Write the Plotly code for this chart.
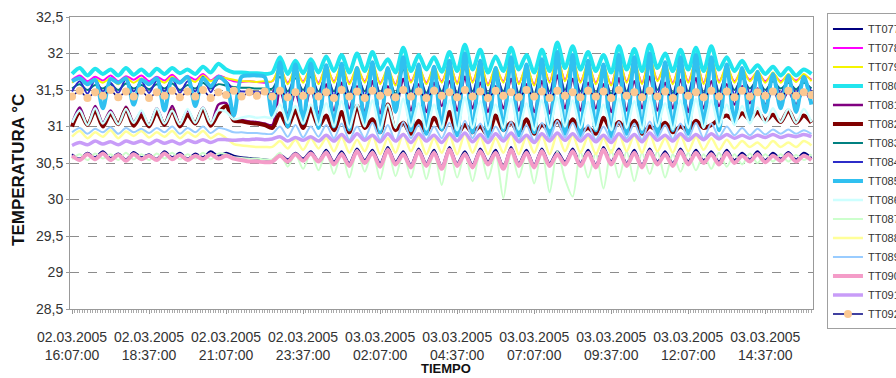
import plotly.graph_objects as go
import pandas as pd

# ---------------- data ----------------
start_time = "2005-03-02 16:07:00"
n_points = 97  # one reading every 15 minutes
times = pd.date_range(start_time, periods=n_points, freq="15min")

tick_labels = [
    "02.03.2005<br>16:07:00", "02.03.2005<br>18:37:00", "02.03.2005<br>21:07:00",
    "02.03.2005<br>23:37:00", "03.03.2005<br>02:07:00", "03.03.2005<br>04:37:00",
    "03.03.2005<br>07:07:00", "03.03.2005<br>09:37:00", "03.03.2005<br>12:07:00",
    "03.03.2005<br>14:37:00",
]
tick_times = pd.date_range(start_time, periods=len(tick_labels), freq="150min")

y_ticks = [28.5, 29, 29.5, 30, 30.5, 31, 31.5, 32, 32.5]
y_tick_labels = ["28,5", "29", "29,5", "30", "30,5", "31", "31,5", "32", "32,5"]

TT077 = [30.62, 30.56, 30.64, 30.58, 30.66, 30.57, 30.63, 30.55, 30.65, 30.58,
         30.62, 30.56, 30.66, 30.58, 30.64, 30.56, 30.63, 30.58, 30.66, 30.60,
         30.64, 30.60, 30.58, 30.57, 30.56, 30.55, 30.54, 30.62, 30.55, 30.64, 30.56, 30.66, 30.54,
         30.68, 30.52, 30.66, 30.50, 30.70, 30.54, 30.68, 30.50, 30.72, 30.52,
         30.66, 30.48, 30.70, 30.50, 30.68, 30.46, 30.72, 30.50, 30.66, 30.48,
         30.70, 30.52, 30.68, 30.46, 30.72, 30.50, 30.68, 30.48, 30.70, 30.50,
         30.66, 30.52,
         30.70, 30.50, 30.68, 30.48, 30.72, 30.52, 30.70, 30.50, 30.68, 30.48,
         30.70, 30.52, 30.66, 30.50, 30.70, 30.52, 30.68, 30.54, 30.66, 30.52,
         30.68, 30.54, 30.64, 30.55, 30.66, 30.54, 30.64, 30.56, 30.65, 30.55,
         30.64, 30.57]

TT078 = [31.64, 31.70, 31.62, 31.68, 31.63, 31.70, 31.62, 31.69, 31.64, 31.70,
         31.62, 31.68, 31.63, 31.71, 31.62, 31.69, 31.64, 31.72, 31.63, 31.70,
         31.66, 31.62, 31.61, 31.62, 31.61, 31.60, 31.62, 31.78, 31.60, 31.75, 31.62, 31.78, 31.60,
         31.80, 31.62, 31.82, 31.60, 31.78, 31.62, 31.84, 31.60, 31.76, 31.58,
         31.88, 31.62, 31.80, 31.60, 31.78, 31.62, 31.84, 31.60, 31.90, 31.62,
         31.85, 31.58, 31.78, 31.62, 31.88, 31.60, 31.80, 31.58, 31.86, 31.62,
         31.92, 31.64,
         31.88, 31.62, 31.84, 31.60, 31.80, 31.58, 31.90, 31.62, 31.86, 31.60,
         31.92, 31.64, 31.82, 31.60, 31.86, 31.62, 31.88, 31.60, 31.90, 31.62,
         31.80, 31.62, 31.76, 31.64, 31.74, 31.62, 31.72, 31.62, 31.70, 31.63,
         31.70, 31.64]

TT079 = [31.60, 31.66, 31.58, 31.65, 31.60, 31.66, 31.58, 31.67, 31.60, 31.66,
         31.59, 31.65, 31.60, 31.68, 31.60, 31.66, 31.61, 31.70, 31.62, 31.68,
         31.66, 31.64, 31.62, 31.62, 31.61, 31.62, 31.62, 31.82, 31.58, 31.80, 31.60, 31.82, 31.58,
         31.84, 31.60, 31.86, 31.58, 31.82, 31.60, 31.88, 31.58, 31.80, 31.56,
         31.92, 31.60, 31.84, 31.58, 31.82, 31.60, 31.88, 31.58, 31.95, 31.60,
         31.90, 31.56, 31.82, 31.60, 31.92, 31.58, 31.84, 31.56, 31.90, 31.60,
         31.96, 31.62,
         31.92, 31.60, 31.88, 31.58, 31.84, 31.56, 31.94, 31.60, 31.90, 31.58,
         31.96, 31.62, 31.86, 31.58, 31.90, 31.60, 31.92, 31.58, 31.94, 31.60,
         31.84, 31.60, 31.80, 31.62, 31.76, 31.60, 31.74, 31.60, 31.72, 31.61,
         31.72, 31.62]

TT080 = [31.72, 31.80, 31.70, 31.79, 31.72, 31.78, 31.70, 31.80, 31.71, 31.78,
         31.70, 31.79, 31.72, 31.80, 31.73, 31.78, 31.72, 31.82, 31.74, 31.86,
         31.78, 31.74, 31.74, 31.73, 31.73, 31.72, 31.74, 31.95, 31.72, 31.90, 31.73, 31.92, 31.74,
         31.96, 31.76, 31.98, 31.74, 32.00, 31.76, 32.02, 31.78, 31.92, 31.74,
         32.08, 31.76, 31.98, 31.78, 31.95, 31.75, 32.02, 31.76, 32.12, 31.78,
         32.05, 31.74, 31.96, 31.76, 32.08, 31.78, 31.98, 31.74, 32.05, 31.76,
         32.15, 31.80,
         32.10, 31.78, 32.02, 31.76, 31.98, 31.74, 32.10, 31.78, 32.06, 31.76,
         32.12, 31.80, 32.00, 31.76, 32.05, 31.78, 32.08, 31.76, 32.10, 31.78,
         31.95, 31.76, 31.90, 31.74, 31.84, 31.72, 31.82, 31.70, 31.80, 31.70,
         31.78, 31.72]

TT081 = [31.04, 31.26, 31.02, 31.28, 31.05, 31.22, 31.03, 31.27, 31.06, 31.20,
         31.02, 31.25, 31.04, 31.28, 31.03, 31.22, 31.05, 31.26, 31.02, 31.30,
         31.32, 31.10, 31.09, 31.07, 31.06, 31.04, 31.02, 31.50, 31.18, 31.46, 31.16, 31.52, 31.18,
         31.58, 31.22, 31.60, 31.25, 31.55, 31.20, 31.62, 31.18, 31.55, 31.25,
         31.65, 31.22, 31.58, 31.20, 31.60, 31.28, 31.62, 31.22, 31.68, 31.25,
         31.60, 31.20, 31.55, 31.25, 31.65, 31.22, 31.58, 31.20, 31.62, 31.18,
         31.70, 31.25,
         31.65, 31.22, 31.60, 31.25, 31.58, 31.20, 31.66, 31.22, 31.62, 31.25,
         31.68, 31.22, 31.60, 31.25, 31.64, 31.20, 31.66, 31.25, 31.62, 31.28,
         31.58, 31.30, 31.55, 31.32, 31.52, 31.30, 31.50, 31.32, 31.48, 31.30,
         31.50, 31.32]

TT082 = [31.00, 31.20, 31.02, 31.22, 31.00, 31.18, 31.03, 31.24, 31.01, 31.15,
         31.00, 31.20, 31.02, 31.22, 31.00, 31.16, 31.04, 31.24, 31.01, 31.18,
         31.28, 31.08, 31.07, 31.05, 31.04, 31.02, 30.98, 31.18, 31.00, 31.22, 30.98, 31.25, 31.00,
         31.15, 30.95, 31.20, 30.92, 31.28, 30.98, 31.10, 30.92, 31.30, 30.95,
         31.05, 30.90, 31.08, 30.92, 31.12, 30.96, 31.20, 30.90, 31.02, 30.92,
         31.00, 30.88, 31.15, 30.95, 31.05, 30.92, 31.10, 30.90, 31.02, 30.95,
         31.08, 30.92,
         31.10, 30.92, 30.98, 30.90, 31.12, 30.95, 31.06, 30.92, 31.08, 30.90,
         31.00, 30.95, 31.05, 30.92, 31.00, 30.94, 31.08, 30.98, 31.02, 31.10,
         31.15, 31.08, 31.18, 31.10, 31.20, 31.08, 31.16, 31.06, 31.22, 31.05,
         31.15, 31.05]

TT083 = [31.52, 31.58, 31.50, 31.57, 31.52, 31.58, 31.50, 31.59, 31.52, 31.57,
         31.51, 31.58, 31.52, 31.59, 31.50, 31.57, 31.52, 31.60, 31.52, 31.58,
         31.56, 31.54, 31.53, 31.53, 31.52, 31.52, 31.52, 31.68, 31.48, 31.66, 31.50, 31.68, 31.48,
         31.70, 31.48, 31.72, 31.46, 31.68, 31.48, 31.74, 31.46, 31.68, 31.45,
         31.78, 31.48, 31.70, 31.46, 31.68, 31.48, 31.74, 31.46, 31.80, 31.48,
         31.76, 31.45, 31.70, 31.48, 31.78, 31.46, 31.72, 31.45, 31.76, 31.48,
         31.82, 31.50,
         31.78, 31.48, 31.74, 31.46, 31.70, 31.45, 31.80, 31.48, 31.76, 31.46,
         31.82, 31.50, 31.72, 31.46, 31.76, 31.48, 31.78, 31.46, 31.80, 31.48,
         31.70, 31.50, 31.66, 31.52, 31.64, 31.50, 31.62, 31.52, 31.60, 31.51,
         31.60, 31.52]

TT084 = [31.48, 31.62, 31.45, 31.64, 31.48, 31.60, 31.46, 31.65, 31.48, 31.62,
         31.46, 31.63, 31.48, 31.66, 31.46, 31.62, 31.48, 31.68, 31.47, 31.66,
         31.62, 31.50, 31.48, 31.48, 31.47, 31.47, 31.46, 31.76, 31.42, 31.72, 31.44, 31.75, 31.42,
         31.76, 31.42, 31.80, 31.40, 31.74, 31.42, 31.82, 31.40, 31.72, 31.38,
         31.86, 31.42, 31.76, 31.40, 31.74, 31.42, 31.82, 31.40, 31.88, 31.42,
         31.84, 31.38, 31.76, 31.42, 31.86, 31.40, 31.78, 31.38, 31.84, 31.42,
         31.90, 31.44,
         31.86, 31.42, 31.82, 31.40, 31.76, 31.38, 31.88, 31.42, 31.84, 31.40,
         31.90, 31.44, 31.78, 31.40, 31.84, 31.42, 31.86, 31.40, 31.88, 31.42,
         31.76, 31.44, 31.72, 31.46, 31.68, 31.45, 31.66, 31.46, 31.64, 31.46,
         31.64, 31.47]

TT085 = [31.62, 31.66, 31.58, 31.64, 31.25, 31.65, 31.60, 31.66, 31.30, 31.64,
         31.58, 31.66, 31.22, 31.65, 31.60, 31.68, 31.28, 31.66, 31.55, 31.68,
         31.60, 31.15, 31.68, 31.70, 31.70, 31.68, 31.15, 31.88, 31.00, 31.85, 31.05, 31.86, 30.98,
         31.84, 31.00, 31.86, 30.96, 31.80, 31.05, 31.88, 30.92, 31.80, 31.20,
         31.95, 30.95, 31.85, 30.90, 31.82, 30.96, 31.90, 30.88, 32.00, 30.92,
         31.90, 30.86, 31.80, 30.95, 31.95, 30.88, 31.85, 30.92, 31.92, 30.85,
         32.02, 30.90,
         31.98, 30.88, 31.90, 30.95, 31.85, 30.86, 31.98, 30.90, 31.95, 30.92,
         32.00, 30.88, 31.88, 30.95, 31.95, 30.90, 31.98, 31.00, 31.95, 30.95,
         31.85, 31.05, 31.80, 31.10, 31.75, 31.20, 31.72, 31.25, 31.70, 31.20,
         31.68, 31.30]

TT086 = [31.05, 31.22, 31.02, 31.25, 31.04, 31.20, 31.03, 31.24, 31.05, 31.22,
         31.02, 31.25, 31.04, 31.22, 31.03, 31.24, 31.05, 31.26, 31.04, 31.22,
         31.20, 31.10, 31.12, 31.14, 31.12, 31.13, 31.12, 31.30, 31.05, 31.28, 31.04, 31.30, 31.02,
         31.32, 31.00, 31.35, 30.98, 31.30, 31.00, 31.36, 30.96, 31.30, 30.98,
         31.38, 31.00, 31.32, 30.96, 31.30, 30.98, 31.36, 30.95, 31.40, 30.98,
         31.35, 30.96, 31.30, 30.98, 31.38, 30.96, 31.32, 30.95, 31.36, 30.98,
         31.40, 31.00,
         31.36, 30.98, 31.34, 30.96, 31.30, 30.95, 31.38, 30.98, 31.35, 30.96,
         31.40, 31.00, 31.32, 30.96, 31.36, 30.98, 31.38, 30.98, 31.36, 31.00,
         31.30, 31.02, 31.28, 31.04, 31.26, 31.05, 31.25, 31.06, 31.24, 31.05,
         31.24, 31.06]

TT087 = [30.55, 30.62, 30.54, 30.63, 30.56, 30.62, 30.54, 30.64, 30.55, 30.62,
         30.54, 30.63, 30.56, 30.64, 30.55, 30.62, 30.56, 30.64, 30.55, 30.63,
         30.62, 30.58, 30.57, 30.56, 30.56, 30.55, 30.55, 30.64, 30.45, 30.62, 30.42, 30.64, 30.40,
         30.66, 30.35, 30.64, 30.30, 30.68, 30.38, 30.66, 30.28, 30.70, 30.32,
         30.64, 30.30, 30.68, 30.28, 30.66, 30.20, 30.68, 30.30, 30.64, 30.25,
         30.66, 30.28, 30.62, 30.02, 30.66, 30.30, 30.64, 30.22, 30.68, 30.10,
         30.66, 30.28,
         30.04, 30.66, 30.30, 30.64, 30.15, 30.68, 30.30, 30.66, 30.25, 30.64,
         30.35, 30.66, 30.30, 30.62, 30.38, 30.64, 30.40, 30.62, 30.42, 30.64,
         30.45, 30.62, 30.48, 30.63, 30.50, 30.62, 30.52, 30.62, 30.52, 30.61,
         30.54, 30.62]

TT088 = [30.86, 30.94, 30.84, 30.92, 30.86, 30.95, 30.84, 30.93, 30.87, 30.94,
         30.85, 30.92, 30.86, 30.94, 30.84, 30.92, 30.86, 30.94, 30.84, 30.90,
         30.84, 30.76, 30.74, 30.73, 30.72, 30.72, 30.72, 30.80, 30.70, 30.82, 30.68, 30.84, 30.70,
         30.84, 30.66, 30.86, 30.64, 30.82, 30.66, 30.88, 30.62, 30.84, 30.64,
         30.90, 30.66, 30.86, 30.62, 30.84, 30.64, 30.88, 30.62, 30.90, 30.64,
         30.86, 30.62, 30.84, 30.64, 30.90, 30.62, 30.86, 30.64, 30.88, 30.62,
         30.90, 30.66,
         30.88, 30.64, 30.86, 30.62, 30.84, 30.64, 30.90, 30.66, 30.88, 30.64,
         30.90, 30.66, 30.84, 30.64, 30.88, 30.66, 30.86, 30.68, 30.84, 30.68,
         30.82, 30.70, 30.80, 30.72, 30.78, 30.70, 30.80, 30.72, 30.78, 30.72,
         30.80, 30.74]

TT089 = [30.92, 30.98, 30.90, 30.97, 30.92, 30.99, 30.90, 30.98, 30.92, 30.97,
         30.91, 30.98, 30.92, 31.00, 30.90, 30.98, 30.92, 31.00, 30.91, 30.98,
         30.96, 30.92, 30.92, 30.91, 30.91, 30.90, 30.90, 31.00, 30.86, 31.02, 30.85, 31.00, 30.86,
         31.02, 30.84, 31.04, 30.82, 31.00, 30.84, 31.05, 30.82, 31.02, 30.80,
         31.06, 30.84, 31.02, 30.82, 31.00, 30.84, 31.05, 30.80, 31.08, 30.84,
         31.04, 30.82, 31.00, 30.84, 31.06, 30.82, 31.02, 30.80, 31.05, 30.84,
         31.08, 30.85,
         31.05, 30.84, 31.02, 30.82, 31.00, 30.82, 31.06, 30.84, 31.04, 30.82,
         31.07, 30.85, 31.02, 30.83, 31.04, 30.84, 31.05, 30.84, 31.04, 30.86,
         31.00, 30.88, 30.98, 30.88, 30.97, 30.89, 30.96, 30.90, 30.96, 30.90,
         30.95, 30.90]

TT090 = [30.60, 30.54, 30.62, 30.55, 30.63, 30.54, 30.61, 30.53, 30.62, 30.55,
         30.60, 30.54, 30.63, 30.55, 30.61, 30.54, 30.60, 30.55, 30.62, 30.56,
         30.60, 30.56, 30.54, 30.52, 30.52, 30.51, 30.52, 30.60, 30.52, 30.62, 30.53, 30.63, 30.52,
         30.64, 30.48, 30.62, 30.46, 30.66, 30.50, 30.64, 30.45, 30.68, 30.48,
         30.62, 30.44, 30.66, 30.46, 30.64, 30.42, 30.68, 30.46, 30.62, 30.44,
         30.66, 30.48, 30.64, 30.42, 30.68, 30.46, 30.64, 30.44, 30.66, 30.46,
         30.62, 30.48,
         30.66, 30.46, 30.64, 30.44, 30.68, 30.48, 30.66, 30.46, 30.64, 30.44,
         30.66, 30.48, 30.62, 30.46, 30.66, 30.48, 30.64, 30.50, 30.62, 30.48,
         30.64, 30.50, 30.60, 30.52, 30.62, 30.51, 30.60, 30.53, 30.62, 30.52,
         30.60, 30.54]

TT091 = [30.74, 30.78, 30.75, 30.80, 30.76, 30.79, 30.75, 30.80, 30.77, 30.80,
         30.76, 30.81, 30.77, 30.80, 30.76, 30.81, 30.78, 30.82, 30.78, 30.82,
         30.82, 30.81, 30.82, 30.82, 30.83, 30.82, 30.83, 30.86, 30.80, 30.85, 30.81, 30.86, 30.80,
         30.88, 30.80, 30.89, 30.79, 30.90, 30.81, 30.88, 30.79, 30.90, 30.80,
         30.89, 30.78, 30.90, 30.80, 30.88, 30.78, 30.90, 30.80, 30.91, 30.79,
         30.89, 30.78, 30.90, 30.80, 30.91, 30.79, 30.88, 30.78, 30.90, 30.80,
         30.91, 30.81,
         30.90, 30.80, 30.89, 30.79, 30.88, 30.78, 30.90, 30.80, 30.89, 30.79,
         30.91, 30.81, 30.88, 30.80, 30.90, 30.81, 30.89, 30.82, 30.90, 30.83,
         30.89, 30.84, 30.88, 30.84, 30.88, 30.85, 30.89, 30.85, 30.88, 30.86,
         30.89, 30.86]

TT092 = [31.41, 31.49, 31.39, 31.47, 31.42, 31.50, 31.40, 31.48, 31.41, 31.49,
         31.39, 31.47, 31.42, 31.49, 31.40, 31.48, 31.41, 31.50, 31.39, 31.47,
         31.43, 31.49, 31.41, 31.47, 31.42, 31.48, 31.41, 31.49, 31.40, 31.47, 31.42, 31.49, 31.41,
         31.47, 31.39, 31.50, 31.41, 31.48, 31.39, 31.49, 31.42, 31.47, 31.40,
         31.50, 31.41, 31.48, 31.39, 31.49, 31.42, 31.47, 31.40, 31.50, 31.41,
         31.48, 31.39, 31.49, 31.42, 31.47, 31.40, 31.50, 31.41, 31.48, 31.39,
         31.49, 31.42,
         31.47, 31.40, 31.49, 31.41, 31.48, 31.39, 31.50, 31.42, 31.47, 31.40,
         31.49, 31.41, 31.48, 31.39, 31.50, 31.42, 31.47, 31.40, 31.49, 31.41,
         31.48, 31.40, 31.49, 31.41, 31.47, 31.42, 31.48, 31.41, 31.49, 31.42,
         31.47, 31.43]

series_names = ["TT077", "TT078", "TT079", "TT080", "TT081", "TT082", "TT083", "TT084",
                "TT085", "TT086", "TT087", "TT088", "TT089", "TT090", "TT091", "TT092"]
series_values = [TT077, TT078, TT079, TT080, TT081, TT082, TT083, TT084,
                 TT085, TT086, TT087, TT088, TT089, TT090, TT091, TT092]

# ---------------- styles ----------------
colors = ["#000080", "#FF00FF", "#F5F500", "#22E5EE", "#800080", "#800000", "#008080", "#2C2CC8",
          "#30C0F0", "#CCFFFF", "#CCFFCC", "#FFFF99", "#99CCFF", "#F49CC8", "#C89CF8", "#000080"]
widths = [2, 2, 2, 4, 2.5, 4, 2, 2, 4, 2.5, 2, 2.5, 2, 4, 3.5, 1.5]

fig = go.Figure()
for name, vals, col, w in zip(series_names, series_values, colors, widths):
    vals = vals[:n_points]
    x = times[:len(vals)]
    if name == "TT092":
        fig.add_trace(go.Scatter(
            x=x, y=vals, name=name, mode="lines+markers",
            line=dict(color=col, width=w, shape="spline", smoothing=0.6),
            marker=dict(color="#FBC892", size=8, line=dict(width=0)),
        ))
    else:
        fig.add_trace(go.Scatter(
            x=x, y=vals, name=name, mode="lines",
            line=dict(color=col, width=w, shape="spline", smoothing=0.8),
        ))

x_start = pd.Timestamp(start_time) - pd.Timedelta(minutes=4)
x_end = pd.Timestamp(start_time) + pd.Timedelta(minutes=1443)

font_family = "Arial, Liberation Sans, sans-serif"

fig.update_layout(
    width=896, height=378,
    margin=dict(l=70, r=83, t=17, b=69, autoexpand=False),
    paper_bgcolor="white", plot_bgcolor="white",
    font=dict(family=font_family, color="#333333"),
    showlegend=True,
    legend=dict(
        x=1.0188, y=1.012, xanchor="left", yanchor="top",
        bordercolor="#a0a0a0", borderwidth=1, bgcolor="white",
        font=dict(size=11, color="#333333", family=font_family),
        itemwidth=30, tracegroupgap=0, maxheight=360,
    ),
    xaxis=dict(
        range=[x_start, x_end],
        tickmode="array", tickvals=tick_times, ticktext=tick_labels,
        tickfont=dict(size=14, color="#333333"),
        ticks="outside", ticklen=4, tickcolor="#999999",
        ticklabelstandoff=11,
        showgrid=False, zeroline=False,
        showline=True, linecolor="#999999", linewidth=1, mirror=True,
        minor=dict(ticks="outside", ticklen=3, tickcolor="#aaaaaa",
                   tickmode="linear", tick0=start_time, dtick=5 * 60 * 1000,
                   showgrid=False),
    ),
    yaxis=dict(
        range=[28.5, 32.5],
        tickmode="array", tickvals=y_ticks, ticktext=y_tick_labels,
        tickfont=dict(size=14, color="#333333"),
        ticks="outside", ticklen=3, tickcolor="#999999",
        showgrid=True, gridcolor="#8c8c8c", gridwidth=1, griddash="dash",
        zeroline=False,
        showline=True, linecolor="#999999", linewidth=1, mirror=True,
    ),
    annotations=[
        dict(text="<b>TIEMPO</b>", x=0.506, y=-0.205, xref="paper", yref="paper",
             showarrow=False, font=dict(size=13, color="#111111", family=font_family),
             xanchor="center", yanchor="middle"),
        dict(text="<b>TEMPERATURA °C</b>", x=-0.07, y=0.476, xref="paper", yref="paper",
             showarrow=False, textangle=-90,
             font=dict(size=17, color="#111111", family=font_family),
             xanchor="center", yanchor="middle"),
    ],
)

fig.write_html("out.html", config={"displayModeBar": False},
               post_script="document.body.style.margin='0';document.body.style.padding='0';")
